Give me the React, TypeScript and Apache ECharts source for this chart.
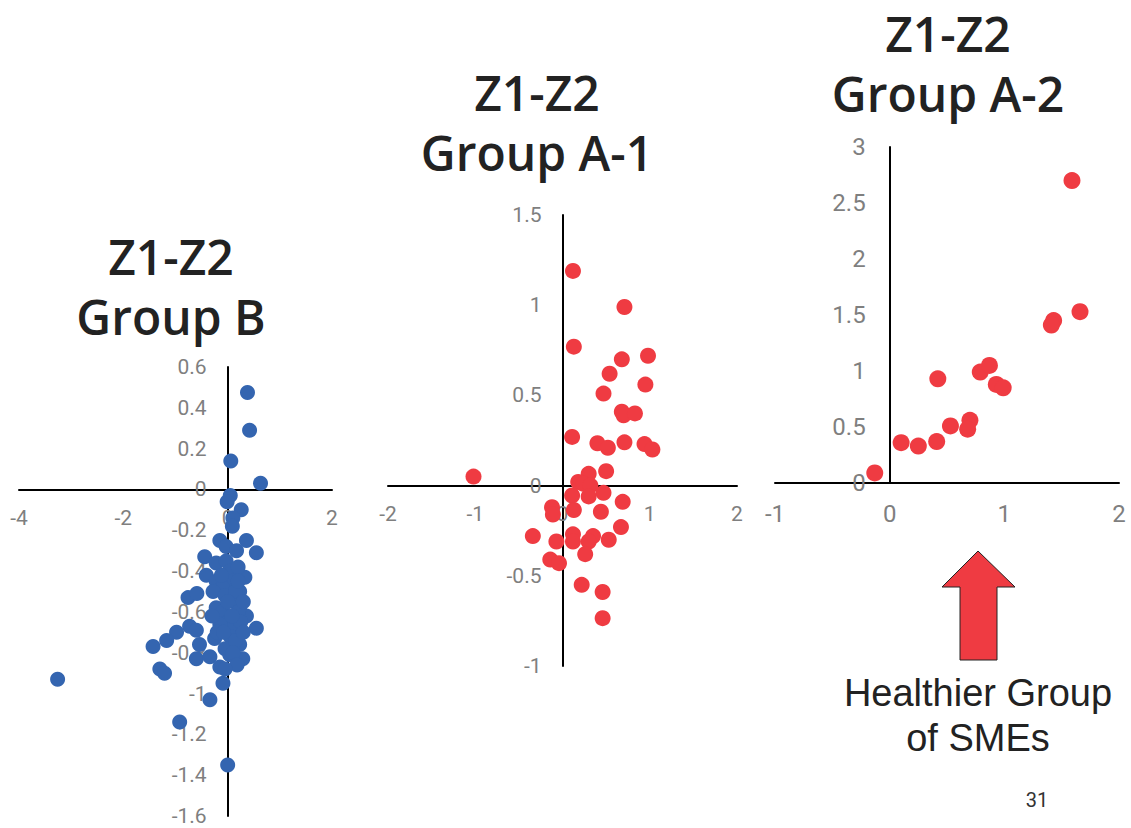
import React, { useEffect, useRef } from "react";
import * as echarts from "echarts";

const groupB: number[][] = [
  [0.38, 0.475], [0.42, 0.29], [0.06, 0.14], [0.63, 0.03], [0.05, -0.03], [-0.01, -0.06],
  [0.26, -0.1], [0.1, -0.14], [0.09, -0.18], [-0.15, -0.25], [0.36, -0.25], [0.55, -0.31],
  [-0.03, -0.28], [0.17, -0.3], [-0.44, -0.33], [-0.22, -0.36], [-0.03, -0.35], [0.33, -0.43],
  [-0.41, -0.42], [0.04, -0.4], [-0.22, -0.45], [0.1, -0.45], [-0.1, -0.48],
  [-0.76, -0.53], [-0.59, -0.51], [-0.28, -0.5], [0.23, -0.5],
  [0.55, -0.68], [0.36, -0.62], [0.23, -0.58], [-0.22, -0.58], [-0.73, -0.67], [-0.6, -0.69],
  [-0.98, -0.7], [-1.17, -0.74], [-1.43, -0.77], [-0.54, -0.76], [-0.6, -0.83], [-0.34, -0.82],
  [-0.25, -0.73], [0.23, -0.76], [0.29, -0.83], [0.04, -0.81], [-0.15, -0.87], [-1.3, -0.88],
  [-1.21, -0.9], [-0.09, -0.95], [-0.34, -1.03], [-3.26, -0.93], [-0.92, -1.14], [0.0, -1.35],
  [-0.05, -0.52], [0.12, -0.55], [0.2, -0.6], [-0.1, -0.6], [0.0, -0.65], [0.1, -0.68],
  [-0.15, -0.66], [0.25, -0.65], [0.05, -0.72], [-0.05, -0.78], [0.15, -0.74], [0.1, -0.8],
  [-0.2, -0.7], [0.3, -0.7], [0.15, -0.5], [-0.12, -0.42], [0.2, -0.38], [0.0, -0.55],
  [0.3, -0.55], [-0.3, -0.62], [0.08, -0.62], [0.18, -0.86], [-0.05, -0.88], [0.2, -0.45],
  [-0.08, -0.7],
];

const groupA1: number[][] = [
  [0.12, 1.19], [0.71, 0.99], [0.13, 0.77], [0.68, 0.7], [0.98, 0.72], [0.54, 0.62],
  [0.95, 0.56], [0.47, 0.51], [0.68, 0.41], [0.7, 0.39], [0.83, 0.4], [0.11, 0.27],
  [0.4, 0.235], [0.52, 0.21], [0.71, 0.24], [0.94, 0.23], [1.03, 0.2], [-1.02, 0.05],
  [0.5, 0.08], [0.3, 0.065], [0.18, 0.02], [0.24, 0.01], [0.32, 0.0], [0.47, -0.04],
  [0.11, -0.055], [0.3, -0.06], [0.69, -0.09], [-0.12, -0.12], [-0.11, -0.16], [0.13, -0.135],
  [0.44, -0.145], [0.67, -0.23], [-0.34, -0.28], [-0.07, -0.31], [0.12, -0.27], [0.12, -0.31],
  [0.35, -0.28], [0.3, -0.31], [0.53, -0.3], [0.26, -0.38], [-0.14, -0.41], [-0.04, -0.43],
  [0.22, -0.55], [0.46, -0.59], [0.46, -0.735],
];

const groupA2: number[][] = [
  [1.59, 2.7], [1.66, 1.53], [1.43, 1.45], [1.41, 1.41], [-0.13, 0.09], [0.1, 0.36],
  [0.25, 0.33], [0.41, 0.37], [0.42, 0.93], [0.53, 0.51], [0.7, 0.56], [0.68, 0.48],
  [0.79, 0.99], [0.87, 1.05], [0.93, 0.88], [0.99, 0.85],
];

const titleB = "Z1-Z2\nGroup B";
const titleA1 = "Z1-Z2\nGroup A-1";
const titleA2 = "Z1-Z2\nGroup A-2";
const noteText = "Healthier Group\nof SMEs";
const pageNumber = "31";

// axis ranges: [xmin, xmax, xInterval, ymin, ymax, yInterval]
const rangeB = [-4, 2, 2, -1.6, 0.6, 0.2];
const rangeA1 = [-2, 2, 1, -1, 1.5, 0.5];
const rangeA2 = [-1, 2, 1, 0, 3, 0.5];

const BLUE = "#3465B0";
const RED = "#EF3B42";
const LABEL = "#7F7F7F";

const fmt = (v: number) => String(Math.round(v * 10) / 10);

type Grid = { left: number; top: number; width: number; height: number };
const grids: Grid[] = [
  { left: 19, top: 367, width: 313, height: 449 },
  { left: 388, top: 215, width: 349, height: 451 },
  { left: 775, top: 147, width: 344, height: 336 },
];

function axesFor(i: number, r: number[], font: number, xMargin: number, yMargin: number) {
  const g = grids[i];
  const [xmin, xmax, xi, ymin, ymax, yi] = r;
  const xOffset = -(g.height * (0 - ymin)) / (ymax - ymin);
  const yOffset = -(g.width * (0 - xmin)) / (xmax - xmin);
  const common = {
    type: "value", gridIndex: i,
    axisTick: { show: false }, splitLine: { show: false },
  };
  const line = { show: true, onZero: false, lineStyle: { color: "#000", width: 2 } };
  return {
    x: {
      ...common, position: "bottom", offset: xOffset, min: xmin, max: xmax, interval: xi,
      axisLine: line,
      axisLabel: { color: LABEL, fontSize: font, fontFamily: "Roboto", margin: xMargin, formatter: fmt },
    },
    y: {
      ...common, position: "left", offset: yOffset, min: ymin, max: ymax, interval: yi,
      axisLine: line,
      axisLabel: { color: LABEL, fontSize: font, fontFamily: "Roboto", margin: yMargin, formatter: fmt },
    },
  };
}

export default function App() {
  const ref = useRef<HTMLDivElement>(null);
  useEffect(() => {
    if (!ref.current) return;
    const chart = echarts.init(ref.current, null, { renderer: "svg" });
    const aB = axesFor(0, rangeB, 21, 18, 21);
    const aA1 = axesFor(1, rangeA1, 21, 18, 21);
    const aA2 = axesFor(2, rangeA2, 24, 19, 24);
    const title = (text: string, x: number, y: number) => ({
      type: "text", x, y,
      style: {
        text, fill: "#222", font: "600 48px 'Open Sans'", lineHeight: 60,
        textAlign: "center", textVerticalAlign: "middle",
      },
    });
    chart.setOption({
      animation: false,
      backgroundColor: "#fff",
      grid: grids.map((g) => ({ ...g, containLabel: false, outerBoundsMode: "none" })),
      xAxis: [aB.x, aA1.x, aA2.x],
      yAxis: [aB.y, aA1.y, aA2.y],
      series: [
        { type: "scatter", xAxisIndex: 0, yAxisIndex: 0, data: groupB, symbolSize: 15, itemStyle: { color: BLUE, opacity: 1 } },
        { type: "scatter", xAxisIndex: 1, yAxisIndex: 1, data: groupA1, symbolSize: 16, itemStyle: { color: RED, opacity: 1 } },
        { type: "scatter", xAxisIndex: 2, yAxisIndex: 2, data: groupA2, symbolSize: 17, itemStyle: { color: RED, opacity: 1 } },
      ],
      graphic: [
        title(titleB, 171, 286),
        title(titleA1, 537, 122),
        title(titleA2, 948, 63),
        {
          type: "polygon",
          shape: { points: [[978, 551], [1015, 587], [997, 587], [997, 660], [960, 660], [960, 587], [942, 587]] },
          style: { fill: RED, stroke: "#222", lineWidth: 1 },
        },
        {
          type: "text", x: 978, y: 715,
          style: {
            text: noteText, fill: "#222", font: "38px 'Liberation Sans'", lineHeight: 45,
            textAlign: "center", textVerticalAlign: "middle",
          },
        },
        {
          type: "text", x: 1037, y: 800,
          style: { text: pageNumber, fill: "#333", font: "20px Roboto", textAlign: "center", textVerticalAlign: "middle" },
        },
      ],
    });
    return () => chart.dispose();
  }, []);
  return <div ref={ref} style={{ position: "fixed", left: 0, top: 0, width: 1131, height: 828 }} />;
}
